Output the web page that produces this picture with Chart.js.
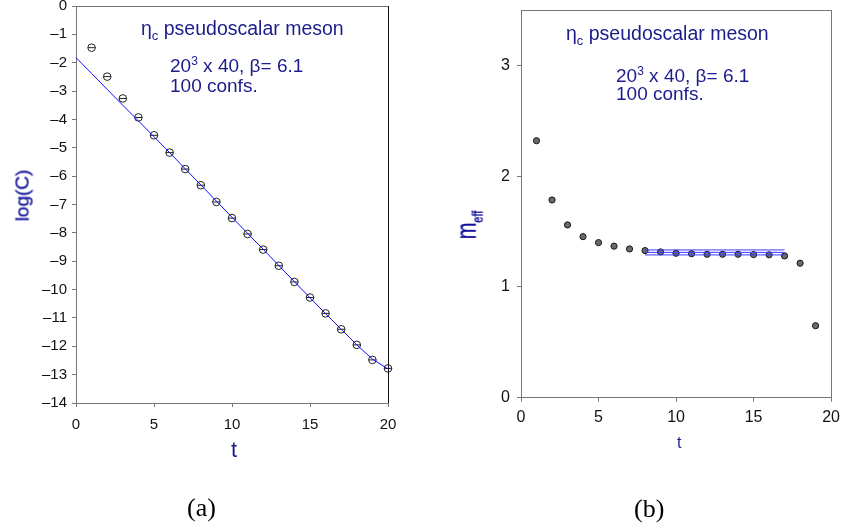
<!DOCTYPE html>
<html>
<head>
<meta charset="utf-8">
<script src="https://cdn.jsdelivr.net/npm/chart.js@4"></script>
<style>
  body { margin: 0; background: #fff; }
  #page { position: relative; width: 846px; height: 531px; overflow: hidden; }
  canvas { position: absolute; top: -20px; }
  .txt { position: absolute; font-family: "Liberation Sans", Arial, sans-serif; color: #1c1c8c; line-height: 1; white-space: nowrap; }
  .rot { color: #12129a; -webkit-text-stroke: 0.3px #12129a; }
  .cap { position: absolute; font-family: "Liberation Serif", "Times New Roman", serif; font-size: 26px; color: #000; line-height: 1; }
  sub, sup { line-height: 0; }
</style>
</head>
<body>
<div id="page">
  <canvas id="chartLog" width="423" height="551" style="left:0"></canvas>
  <canvas id="chartMeff" width="423" height="551" style="left:423px"></canvas>

  <!-- textos panel (a) -->
  <div class="txt" style="left:141px; top:18.5px; font-size:19.5px">η<sub style="font-size:13px">c</sub> pseudoscalar meson</div>
  <div class="txt" style="left:170px; top:55.5px; font-size:19px">20<sup style="font-size:12px">3</sup> x 40, β= 6.1</div>
  <div class="txt" style="left:170px; top:75.5px; font-size:19px">100 confs.</div>
  <div class="txt rot" style="left:-6px; top:186px; width:56px; text-align:center; font-size:19px; transform:rotate(-90deg)">log(C)</div>
  <div class="txt" style="left:231px; top:439px; font-size:22px">t</div>
  <div class="cap" style="left:187px; top:495px">(a)</div>

  <!-- textos panel (b) -->
  <div class="txt" style="left:566px; top:23.5px; font-size:19.5px">η<sub style="font-size:13px">c</sub> pseudoscalar meson</div>
  <div class="txt" style="left:616px; top:65.5px; font-size:19px">20<sup style="font-size:12px">3</sup> x 40, β= 6.1</div>
  <div class="txt" style="left:616px; top:84px; font-size:19px">100 confs.</div>
  <div class="txt rot" style="left:446px; top:215px; width:40px; text-align:center; font-size:20px; transform:rotate(-90deg) scale(1,1.4)">m<sub style="font-size:11px">eff</sub></div>
  <div class="txt" style="left:677px; top:435px; font-size:16px">t</div>
  <div class="cap" style="left:634px; top:496px">(b)</div>
</div>

<script>
// ——— Datos ——————————————————————————————————————
const tPuntos = [1, 2, 3, 4, 5, 6, 7, 8, 9, 10, 11, 12, 13, 14, 15, 16, 17, 18, 19, 20];
const logC = [-1.47, -2.49, -3.26, -3.93, -4.56, -5.17, -5.75, -6.32, -6.91, -7.48,
              -8.04, -8.59, -9.16, -9.73, -10.28, -10.84, -11.40, -11.95, -12.48, -12.78];

const tAjuste = [0, 1, 2, 3, 4, 5, 6, 7, 8, 9, 10, 11, 12, 13, 14, 15, 16, 17, 18, 19, 20];
const logCAjuste = [-1.82, -2.38, -2.94, -3.50, -4.05, -4.61, -5.17, -5.74, -6.31, -6.88, -7.45,
                    -8.02, -8.58, -9.15, -9.72, -10.29, -10.85, -11.40, -11.95, -12.45, -12.80];

const tMeff = [1, 2, 3, 4, 5, 6, 7, 8, 9, 10, 11, 12, 13, 14, 15, 16, 17, 18, 19];
const meff = [2.32, 1.785, 1.56, 1.454, 1.40, 1.368, 1.343, 1.328, 1.316, 1.304,
              1.300, 1.295, 1.295, 1.295, 1.292, 1.290, 1.280, 1.214, 0.65];

const tPlateau = [8, 17];
const plateauSup = [1.334, 1.334];
const plateauCen = [1.312, 1.312];
const plateauInf = [1.289, 1.289];

const ticksX = [0, 5, 10, 15, 20];

// ——— Helpers ——————————————————————————————————————
const puntos = (xs, ys) => xs.map((x, i) => ({ x, y: ys[i] }));
const fuente = (size) => ({ family: "'Liberation Sans', Arial, sans-serif", size });

const marco = {
    id: "marco",
    afterDraw(chart, args, opts) {
        const { ctx, chartArea: a } = chart;
        ctx.save();
        ctx.lineWidth = 1;
        ctx.strokeStyle = opts.arriba;
        ctx.beginPath();
        ctx.moveTo(a.left, Math.round(a.top) + 0.5);
        ctx.lineTo(a.right, Math.round(a.top) + 0.5);
        ctx.stroke();
        ctx.strokeStyle = opts.derecha;
        ctx.beginPath();
        ctx.moveTo(Math.round(a.right) + 0.5, a.top);
        ctx.lineTo(Math.round(a.right) + 0.5, a.bottom);
        ctx.stroke();
        ctx.restore();
    },
};

function ejeX(padding, size) {
    return {
        type: "linear",
        min: 0,
        max: 20,
        afterBuildTicks: (s) => { s.ticks = ticksX.map((v) => ({ value: v })); },
        afterFit: (s) => { s.height = 30; },
        ticks: { color: "#111", font: fuente(size), padding, maxRotation: 0 },
        grid: { drawOnChartArea: false, tickLength: 4, color: "#777" },
        border: { color: "#777", width: 1 },
    };
}

function ejeY(min, max, ancho, padding, size) {
    return {
        min,
        max,
        afterBuildTicks: (s) => { s.ticks = s.ticks.filter((t) => Number.isInteger(t.value)); },
        afterFit: (s) => { s.width = ancho; },
        ticks: {
            stepSize: 1,
            color: "#111",
            font: fuente(size),
            padding,
            callback: (v) => String(v).replace("-", "\u2013"),
        },
        grid: { drawOnChartArea: false, tickLength: 4, color: "#777" },
        border: { color: "#777", width: 1 },
    };
}

function circulos(data, radio, relleno, borde) {
    return [
        {
            type: "scatter", data, clip: false, showLine: false,
            pointStyle: "circle", pointRadius: radio, pointBorderWidth: 1,
            pointBackgroundColor: relleno, pointBorderColor: borde,
        },
        {
            type: "scatter", data, clip: false, showLine: false,
            pointStyle: "line", pointRadius: radio, pointBorderWidth: 1,
            pointBorderColor: borde,
        },
    ];
}

function linea(data, color) {
    return {
        type: "line", data, clip: false, borderColor: color, borderWidth: 1,
        pointRadius: 0, tension: 0, fill: false,
    };
}

const comunes = {
    responsive: false,
    animation: false,
    events: [],
    plugins: { legend: { display: false }, tooltip: { enabled: false } },
};

// ——— Panel (a) ——————————————————————————————————————
new Chart(document.getElementById("chartLog"), {
    type: "scatter",
    data: {
        datasets: [
            linea(puntos(tAjuste, logCAjuste), "#1010ff"),
            ...circulos(puntos(tPuntos, logC), 3.8, "rgba(255,255,255,0)", "#222"),
        ],
    },
    options: {
        ...comunes,
        layout: { padding: { left: 0, right: 35, top: 26, bottom: 98 } },
        scales: { x: ejeX(9, 15), y: ejeY(-14, 0, 76, 5, 15) },
        plugins: { ...comunes.plugins, marco: { arriba: "#777", derecha: "#111" } },
    },
    plugins: [marco],
});

// ——— Panel (b) ——————————————————————————————————————
new Chart(document.getElementById("chartMeff"), {
    type: "scatter",
    data: {
        datasets: [
            linea(puntos(tPlateau, plateauSup), "#3a3aff"),
            linea(puntos(tPlateau, plateauCen), "#3a3aff"),
            linea(puntos(tPlateau, plateauInf), "#3a3aff"),
            ...circulos(puntos(tMeff, meff), 3.1, "#6a6a6a", "#1a1a1a"),
        ],
    },
    options: {
        ...comunes,
        layout: { padding: { left: 0, right: 13, top: 30, bottom: 103.3 } },
        scales: { x: ejeX(6, 16), y: ejeY(0, 3.5, 98, 7, 16) },
        plugins: { ...comunes.plugins, marco: { arriba: "#777", derecha: "#777" } },
    },
    plugins: [marco],
});
</script>
</body>
</html>
